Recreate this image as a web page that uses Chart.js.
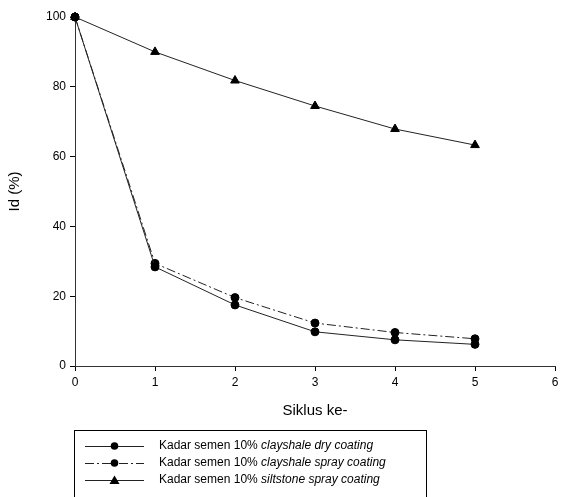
<!DOCTYPE html>
<html lang="id">
<head>
    <meta charset="UTF-8">
    <title>Id vs Siklus</title>
    <style>
        body { margin: 0; padding: 0; background: white; }
        #wrap { width: 561px; height: 497px; position: relative; }
    </style>
    <script src="https://cdn.jsdelivr.net/npm/chart.js"></script>
</head>
<body>
    <div id="wrap"><canvas id="idChart"></canvas></div>

    <script>
        // data
        const cycles = [0, 1, 2, 3, 4, 5];
        const clayDry = [100, 28.4, 17.5, 9.8, 7.5, 6.2];
        const claySpray = [100, 29.4, 19.6, 12.3, 9.6, 7.8];
        const siltSpray = [100, 90, 81.8, 74.5, 67.9, 63.3];
        const legendNames = [
            ['Kadar semen 10% ', 'clayshale dry coating'],
            ['Kadar semen 10% ', 'clayshale spray coating'],
            ['Kadar semen 10% ', 'siltstone spray coating']
        ];

        const FONT = '"Liberation Sans", Arial, sans-serif';

        function toPoints(ys) {
            return cycles.map((x, i) => ({ x: x, y: ys[i] }));
        }

        // boxed legend under the x axis title
        const boxLegend = {
            id: 'boxLegend',
            afterDraw(chart) {
                const ctx = chart.ctx;
                ctx.save();
                ctx.strokeStyle = '#000';
                ctx.lineWidth = 1;
                ctx.strokeRect(74.5, 430.5, 352, 80);
                const rows = [446, 463, 480];
                chart.data.datasets.forEach((ds, i) => {
                    const y = rows[i];
                    ctx.strokeStyle = ds.borderColor;
                    ctx.setLineDash(ds.borderDash || []);
                    ctx.beginPath();
                    ctx.moveTo(85, y + 0.5);
                    ctx.lineTo(144, y + 0.5);
                    ctx.stroke();
                    ctx.setLineDash([]);
                    ctx.fillStyle = '#000';
                    ctx.beginPath();
                    if (ds.pointStyle === 'triangle') {
                        ctx.moveTo(114.5, y - 4.5);
                        ctx.lineTo(119.5, y + 4);
                        ctx.lineTo(109.5, y + 4);
                        ctx.closePath();
                    } else {
                        ctx.arc(114.5, y, 3.8, 0, Math.PI * 2);
                    }
                    ctx.fill();
                    ctx.textBaseline = 'middle';
                    ctx.font = '12px ' + FONT;
                    ctx.fillText(legendNames[i][0], 159, y);
                    const w = ctx.measureText(legendNames[i][0]).width;
                    ctx.font = 'italic 12px ' + FONT;
                    ctx.fillText(legendNames[i][1], 159 + w, y);
                });
                ctx.restore();
            }
        };

        new Chart(document.getElementById('idChart'), {
            type: 'line',
            data: {
                datasets: [
                    {
                        label: 'dry',
                        data: toPoints(clayDry),
                        borderColor: '#222',
                        borderWidth: 1,
                        pointStyle: 'circle',
                        pointRadius: 4,
                        backgroundColor: '#000',
                        pointBorderColor: '#000',
                        tension: 0,
                        clip: false
                    },
                    {
                        label: 'spray',
                        data: toPoints(claySpray),
                        borderColor: '#222',
                        borderWidth: 1,
                        borderDash: [9, 3, 2, 3],
                        pointStyle: 'circle',
                        pointRadius: 4,
                        backgroundColor: '#000',
                        pointBorderColor: '#000',
                        tension: 0,
                        clip: false
                    },
                    {
                        label: 'silt',
                        data: toPoints(siltSpray),
                        borderColor: '#222',
                        borderWidth: 1,
                        pointStyle: 'triangle',
                        pointRadius: 5,
                        backgroundColor: '#000',
                        pointBorderColor: '#000',
                        tension: 0,
                        clip: false
                    }
                ]
            },
            options: {
                responsive: true,
                maintainAspectRatio: false,
                animation: false,
                layout: { padding: { top: 17, right: 0, left: 0, bottom: 73 } },
                plugins: {
                    legend: { display: false },
                    tooltip: { enabled: false }
                },
                scales: {
                    x: {
                        type: 'linear',
                        min: 0,
                        max: 6,
                        afterFit: function (scale) {
                            scale.height = 58;
                            scale.paddingRight = 0;
                            scale.paddingLeft = 0;
                        },
                        ticks: { stepSize: 1, color: '#000', padding: 4, font: { family: FONT, size: 12 } },
                        grid: { drawOnChartArea: false, drawTicks: true, tickLength: 5, color: '#000' },
                        border: { display: true, color: '#333' },
                        title: {
                            display: true,
                            text: 'Siklus ke-',
                            color: '#000',
                            font: { family: FONT, size: 15 }
                        }
                    },
                    y: {
                        min: 0,
                        max: 100,
                        afterFit: function (scale) { scale.width = 75; },
                        ticks: { stepSize: 20, color: '#000', padding: 4, font: { family: FONT, size: 12 } },
                        grid: { drawOnChartArea: false, drawTicks: true, tickLength: 5, color: '#000' },
                        border: { display: true, color: '#333' },
                        title: {
                            display: true,
                            text: 'Id (%)',
                            color: '#000',
                            padding: { top: 6, bottom: 0 },
                            font: { family: FONT, size: 15 }
                        }
                    }
                }
            },
            plugins: [boxLegend]
        });
    </script>
</body>
</html>
